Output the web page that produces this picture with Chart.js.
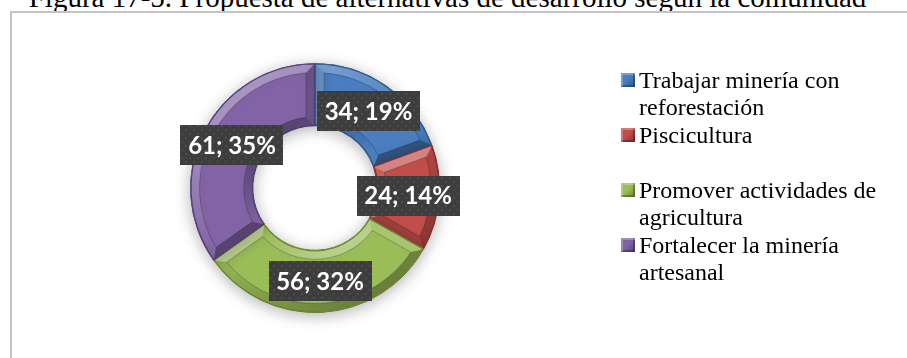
<!DOCTYPE html>
<html>
<head>
<meta charset="utf-8">
<script src="https://cdn.jsdelivr.net/npm/chart.js@4.4.0/dist/chart.umd.min.js"></script>
<style>
    body { margin: 0; background: #fff; width: 907px; height: 358px; overflow: hidden; position: relative; }
    #title { position: absolute; left: -6px; top: -17px; width: 907px; text-align: center; white-space: nowrap;
             font: 29px "Liberation Serif", "Times New Roman", serif; line-height: 29px; color: #000; }
    #frame { position: absolute; left: 10px; top: 11px; width: 910px; height: 360px;
             border-left: 2px solid #c4c4c4; border-top: 2px solid #c4c4c4; }
    #chart { position: absolute; left: 0; top: 0; }
    #legend { position: absolute; left: 621px; top: 67px; font: 24px "Liberation Serif", "Times New Roman", serif; color: #000; }
    .item { position: relative; height: 55px; width: 270px; padding-left: 18px; line-height: 27px; }
    .swatch { position: absolute; left: 0; top: 6px; width: 14px; height: 14px; }
</style>
</head>
<body>
<div id="title">Figura 17-5. Propuesta de alternativas de desarrollo según la comunidad</div>
<div id="frame"></div>
<canvas id="chart" width="907" height="358"></canvas>
<div id="legend"></div>
<script>
const categories = [
    'Trabajar minería con reforestación',
    'Piscicultura',
    'Promover actividades de agricultura',
    'Fortalecer la minería artesanal'
];
const legendLines = [
    ['Trabajar minería con', 'reforestación'],
    ['Piscicultura'],
    ['Promover actividades de', 'agricultura'],
    ['Fortalecer la minería', 'artesanal']
];
const counts = [34, 24, 56, 61];
const sliceColors = ['#4a7ebf', '#c24e4b', '#9bbd58', '#8264a6'];
const edgeColors = ['#2f5a8c', '#8a2f2d', '#6a8a30', '#54407a'];

const total = counts.reduce((a, b) => a + b, 0);
const valueLabels = counts.map(v => v + '; ' + Math.round(v / total * 100) + '%');

// light falls from the upper left; returns an overlay colour for a facet normal
function shade(nx, ny) {
    const d = -(0.55 * nx + 0.83 * ny);
    return d > 0 ? 'rgba(255,255,255,' + (0.32 * d).toFixed(3) + ')' : 'rgba(0,0,0,' + (-0.32 * d).toFixed(3) + ')';
}

function ringGradient(ctx, x, y, sign) {
    const g = ctx.createConicGradient(0, x, y);
    for (let k = 0; k <= 36; k++) {
        const a = k / 36 * Math.PI * 2;
        g.addColorStop(k / 36, shade(sign * Math.cos(a), sign * Math.sin(a)));
    }
    return g;
}

const pt = (x, y, r, a) => [x + r * Math.cos(a), y + r * Math.sin(a)];

// bevelled edges + soft shadow around the ring
const bevelPlugin = {
    id: 'bevel',
    beforeDatasetsDraw(chart) {
        const ctx = chart.ctx;
        ctx.save();
        ctx.shadowColor = 'rgba(0,0,0,0.3)';
        ctx.shadowBlur = 16;
        ctx.shadowOffsetY = 3;
    },
    afterDatasetsDraw(chart) {
        const ctx = chart.ctx;
        ctx.restore();
        const b = 9;
        chart.getDatasetMeta(0).data.forEach((arc, i) => {
            const { x, y, startAngle: s, endAngle: e, innerRadius: r, outerRadius: R } =
                arc.getProps(['x', 'y', 'startAngle', 'endAngle', 'innerRadius', 'outerRadius'], true);
            const ao = b / (R - b), ai = b / (r + b);

            ctx.save();
            // outer facet
            ctx.beginPath();
            ctx.arc(x, y, R, s, e);
            ctx.arc(x, y, R - b, e - ao, s + ao, true);
            ctx.closePath();
            ctx.fillStyle = ringGradient(ctx, x, y, 1);
            ctx.fill();
            // inner facet
            ctx.beginPath();
            ctx.arc(x, y, r + b, s + ai, e - ai);
            ctx.arc(x, y, r, e, s, true);
            ctx.closePath();
            ctx.fillStyle = ringGradient(ctx, x, y, -1);
            ctx.fill();
            // end caps
            [[s, ao, ai, Math.sin(s), -Math.cos(s)], [e, -ao, -ai, -Math.sin(e), Math.cos(e)]].forEach(([a, da, di, nx, ny]) => {
                ctx.beginPath();
                ctx.moveTo(...pt(x, y, R, a));
                ctx.lineTo(...pt(x, y, R - b, a + da));
                ctx.lineTo(...pt(x, y, r + b, a + di));
                ctx.lineTo(...pt(x, y, r, a));
                ctx.closePath();
                ctx.fillStyle = shade(nx, ny);
                ctx.fill();
            });
            // crease around the flat face
            ctx.beginPath();
            ctx.arc(x, y, R - b, s + ao, e - ao);
            ctx.arc(x, y, r + b, e - ai, s + ai, true);
            ctx.closePath();
            ctx.strokeStyle = 'rgba(0,0,0,0.22)';
            ctx.lineWidth = 1;
            ctx.stroke();
            // dark rim of the slice
            ctx.beginPath();
            ctx.arc(x, y, R - 0.5, s, e);
            ctx.arc(x, y, r + 0.5, e, s, true);
            ctx.closePath();
            ctx.strokeStyle = edgeColors[i];
            ctx.lineWidth = 1.2;
            ctx.stroke();
            ctx.restore();
        });
    }
};

// dark dotted boxes with "value; percent" text
function dotPattern(ctx) {
    const tile = document.createElement('canvas');
    tile.width = 8; tile.height = 8;
    const t = tile.getContext('2d');
    t.fillStyle = '#3d3d3d';
    t.fillRect(0, 0, 8, 8);
    t.fillStyle = '#4c4c4c';
    t.fillRect(1, 1, 2, 2);
    t.fillRect(5, 5, 2, 2);
    return ctx.createPattern(tile, 'repeat');
}

const labelPlugin = {
    id: 'valueBoxes',
    afterDatasetsDraw(chart) {
        const ctx = chart.ctx;
        const pattern = dotPattern(ctx);
        ctx.save();
        ctx.font = 'bold 24px Lato, "Open Sans", sans-serif';
        ctx.textAlign = 'center';
        ctx.textBaseline = 'middle';
        chart.getDatasetMeta(0).data.forEach((arc, i) => {
            const { x, y, startAngle, endAngle, innerRadius, outerRadius } =
                arc.getProps(['x', 'y', 'startAngle', 'endAngle', 'innerRadius', 'outerRadius'], true);
            const mid = (startAngle + endAngle) / 2;
            const rm = (innerRadius + outerRadius) / 2;
            const cx = x + rm * Math.cos(mid), cy = y + rm * Math.sin(mid);
            const w = 103, h = 40;
            ctx.fillStyle = pattern;
            ctx.fillRect(Math.round(cx - w / 2), Math.round(cy - h / 2), w, h);
            ctx.fillStyle = '#fff';
            ctx.fillText(valueLabels[i], cx, cy + 1);
        });
        ctx.restore();
    }
};

new Chart(document.getElementById('chart'), {
    type: 'doughnut',
    data: {
        labels: categories,
        datasets: [{
            data: counts,
            backgroundColor: sliceColors,
            borderColor: edgeColors,
            borderWidth: 1
        }]
    },
    options: {
        responsive: false,
        animation: false,
        cutout: '50%',
        layout: { padding: { left: 190, top: 63, right: 467, bottom: 45 } },
        plugins: {
            legend: { display: false },
            tooltip: { enabled: false }
        }
    },
    plugins: [bevelPlugin, labelPlugin]
});

// legend to the right of the ring
const legend = document.getElementById('legend');
legendLines.forEach((lines, i) => {
    const item = document.createElement('div');
    item.className = 'item';
    const sw = document.createElement('span');
    sw.className = 'swatch';
    sw.style.background = 'linear-gradient(135deg, ' + sliceColors[i] + ' 0%, ' + sliceColors[i] + ' 45%, ' + edgeColors[i] + ' 100%)';
    sw.style.boxShadow = 'inset 2px 2px 0 rgba(255,255,255,0.25), inset -2px -2px 0 rgba(0,0,0,0.25)';
    item.appendChild(sw);
    lines.forEach((line, k) => {
        if (k) item.appendChild(document.createElement('br'));
        item.appendChild(document.createTextNode(line));
    });
    legend.appendChild(item);
});
</script>
</body>
</html>
